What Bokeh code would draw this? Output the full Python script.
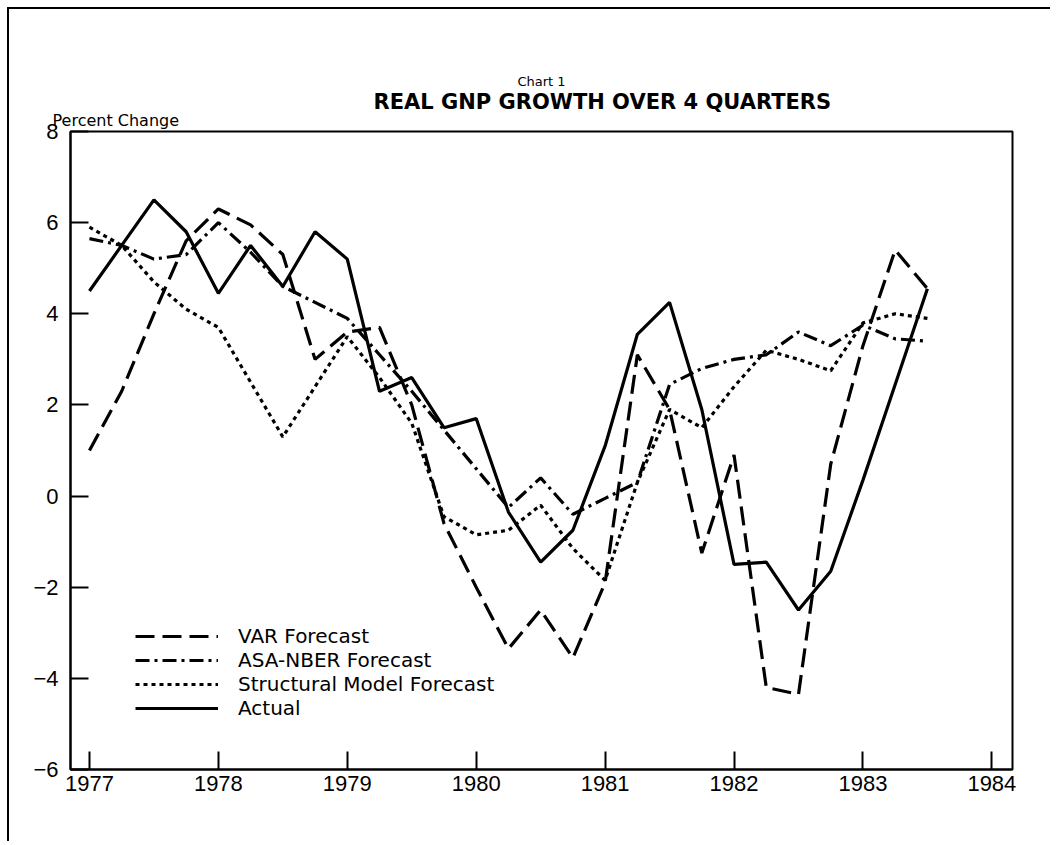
from bokeh.plotting import figure
from bokeh.models import Legend, LegendItem, FixedTicker, Range1d, Title
from bokeh.embed import file_html
from bokeh.resources import INLINE

# ---- data (percent change over 4 quarters, quarterly 1977Q1..1983Q3) ----
quarters = [1977 + 0.25 * i for i in range(27)]
actual = [4.5, 5.5, 6.5, 5.8, 4.45, 5.5, 4.6, 5.8, 5.2, 2.3, 2.6, 1.5, 1.7, -0.35,
          -1.45, -0.75, 1.1, 3.55, 4.25, 1.9, -1.5, -1.45, -2.5, -1.65, 0.35, 2.45, 4.55]
var_fc = [1.0, 2.3, 4.0, 5.6, 6.3, 5.95, 5.3, 3.0, 3.6, 3.7, 2.0, -0.6, -2.0, -3.35,
          -2.5, -3.55, -1.9, 3.1, 1.9, -1.25, 0.9, -4.2, -4.35, 0.7, 3.3, 5.4, 4.55]
asa_fc = [5.65, 5.5, 5.2, 5.3, 6.0, 5.35, 4.6, 4.25, 3.9, 3.1, 2.3, 1.45, 0.6, -0.25,
          0.4, -0.4, -0.05, 0.3, 2.45, 2.8, 3.0, 3.1, 3.6, 3.3, 3.75, 3.45, 3.4]
struct_fc = [5.9, 5.5, 4.7, 4.1, 3.7, 2.5, 1.3, 2.4, 3.5, 2.6, 1.6, -0.45, -0.85, -0.75,
             -0.2, -1.15, -1.85, 0.3, 1.9, 1.5, 2.4, 3.2, 3.0, 2.75, 3.8, 4.0, 3.9]

x_ticks = [1977, 1978, 1979, 1980, 1981, 1982, 1983, 1984]
y_ticks = [-6, -4, -2, 0, 2, 4, 6, 8]
y_tick_labels = ["\u22126", "\u22124", "\u22122", "0", "2", "4", "6", "8"]

series_names = ["VAR Forecast", "ASA-NBER Forecast", "Structural Model Forecast", "Actual"]

p = figure(width=1043, height=834, output_backend="svg", toolbar_location=None,
           x_range=Range1d(1976.853, 1984.16), y_range=Range1d(-6, 8),
           min_border_left=61, min_border_right=40, min_border_top=122, min_border_bottom=74)
p.styles = {"margin-left": "7px", "margin-top": "7px",
            "border-left": "2px solid black", "border-top": "2px solid black"}
p.grid.visible = False
p.outline_line_color = "black"
p.outline_line_width = 2
p.outline_line_alpha = 1.0
p.background_fill_color = "white"
p.border_fill_color = "white"

lw = 3.2
r_var = p.line(quarters, var_fc, line_color="black", line_width=lw, line_dash="19 8")
r_asa = p.line(quarters, asa_fc, line_color="black", line_width=lw, line_dash="14 5 3 5")
r_str = p.line(quarters, struct_fc, line_color="black", line_width=lw, line_dash="4 4")
r_act = p.line(quarters, actual, line_color="black", line_width=lw)

for ax in (p.xaxis[0], p.yaxis[0]):
    ax.axis_line_width = 2
    ax.axis_line_color = "black"
    ax.major_tick_line_width = 2
    ax.major_tick_line_color = "black"
    ax.major_tick_in = 18
    ax.major_tick_out = 0
    ax.minor_tick_line_color = None
    ax.major_label_text_font = "Liberation Sans"
    ax.major_label_text_font_size = "22px"
    ax.major_label_text_color = "black"

p.xaxis.ticker = FixedTicker(ticks=x_ticks)
p.xaxis.major_label_overrides = {t: str(t) for t in x_ticks}
p.xaxis.major_label_standoff = 6
p.yaxis.ticker = FixedTicker(ticks=y_ticks)
p.yaxis.major_label_overrides = dict(zip(y_ticks, y_tick_labels))
p.yaxis.major_label_standoff = 12

legend = Legend(items=[LegendItem(label=series_names[0], renderers=[r_var]),
                       LegendItem(label=series_names[1], renderers=[r_asa]),
                       LegendItem(label=series_names[2], renderers=[r_str]),
                       LegendItem(label=series_names[3], renderers=[r_act])],
                location=(65, 49), glyph_width=83, glyph_height=16, label_height=16,
                label_standoff=20, spacing=-2, padding=0, margin=0,
                border_line_color=None, background_fill_alpha=0,
                label_text_font="DejaVu Sans", label_text_font_size="20px",
                label_text_color="black")
p.add_layout(legend, "center")

# titles stacked above the frame (first added sits nearest the frame)
p.title.text = "Chart 1"
p.title.align = "center"
p.title.text_font = "DejaVu Sans"
p.title.text_font_size = "13px"
p.title.text_font_style = "normal"
p.title.text_color = "black"
p.title.standoff = 11

p.add_layout(Title(text="Percent Change", align="left", offset=-18, standoff=3,
                   text_font="DejaVu Sans", text_font_size="16px", text_color="black",
                   text_font_style="normal", text_line_height=0.7), "above")
p.add_layout(Title(text="REAL GNP GROWTH OVER 4 QUARTERS", align="left", offset=303,
                   standoff=-13, text_font="DejaVu Sans", text_font_size="21px",
                   text_color="black", text_font_style="bold"), "above")

open("out.html", "w").write(file_html(p, INLINE))
